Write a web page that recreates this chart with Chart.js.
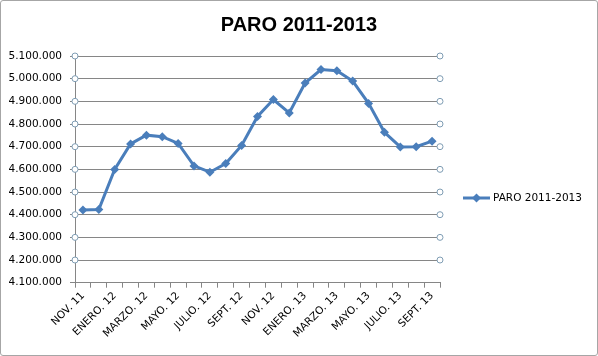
<!DOCTYPE html>
<html>
<head>
<meta charset="utf-8">
<script src="https://cdn.jsdelivr.net/npm/chart.js@4/dist/chart.umd.min.js"></script>
<style>
html,body{margin:0;padding:0;background:#fff;}
#wrap{position:absolute;left:0;top:0;width:596px;height:354px;border:1px solid #a6a6a6;border-radius:3px;overflow:hidden;}
#c{position:absolute;left:-1px;top:-1px;}
</style>
</head>
<body>
<div id="wrap"><canvas id="c" width="598" height="356"></canvas></div>
<script>
const categories = ["NOV. 11","DIC. 11","ENERO. 12","FEB. 12","MARZO. 12","ABRIL. 12","MAYO. 12","JUNIO. 12","JULIO. 12","AGOSTO. 12","SEPT. 12","OCT. 12","NOV. 12","DIC. 12","ENERO. 13","FEB. 13","MARZO. 13","ABRIL. 13","MAYO. 13","JUNIO. 13","JULIO. 13","AGOSTO. 13","SEPT. 13"];
const paro = [4420462,4422359,4599829,4712098,4750867,4744235,4714122,4615269,4587455,4625634,4705279,4833521,4907817,4848723,4980778,5040222,5035243,4989193,4890928,4763680,4698814,4699893,4724355];
const seriesName = "PARO 2011-2013";
const yMin = 4100000, yMax = 5100000, yStep = 100000;

const FONT = "'DejaVu Sans', sans-serif";
const LINE = '#4a7ebb';
const GRID = '#868686';

function fmt(v){ return Math.round(v).toString().replace(/\B(?=(\d{3})+(?!\d))/g, '.'); }

const extras = {
  id: 'extras',
  afterDatasetsDraw(chart){
    const ctx = chart.ctx, ca = chart.chartArea, y = chart.scales.y;
    ctx.save();
    ctx.strokeStyle = '#7f9db4';
    ctx.fillStyle = '#fff';
    ctx.lineWidth = 1;
    y.ticks.forEach(t => {
      if (t.value === yMin) return;
      const py = y.getPixelForValue(t.value);
      [ca.right, ca.left].forEach(px => {
        ctx.beginPath();
        ctx.arc(px, py, 3, 0, Math.PI*2);
        ctx.fill();
        ctx.stroke();
      });
    });
    // legend
    const lx = 463, ly = 198;
    ctx.strokeStyle = LINE; ctx.lineWidth = 3;
    ctx.beginPath(); ctx.moveTo(lx, ly); ctx.lineTo(lx+27, ly); ctx.stroke();
    ctx.fillStyle = LINE;
    ctx.beginPath();
    ctx.moveTo(lx+13.5, ly-4.5); ctx.lineTo(lx+18, ly); ctx.lineTo(lx+13.5, ly+4.5); ctx.lineTo(lx+9, ly); ctx.closePath();
    ctx.fill();
    ctx.fillStyle = '#000';
    ctx.font = "10.5px " + FONT;
    ctx.textBaseline = 'middle';
    ctx.textAlign = 'left';
    ctx.fillText(seriesName, lx+30, ly);
    ctx.restore();
  }
};

new Chart(document.getElementById('c'), {
  type: 'line',
  data: {
    labels: categories,
    datasets: [{
      label: seriesName,
      data: paro,
      borderColor: LINE,
      backgroundColor: LINE,
      borderWidth: 3,
      pointStyle: 'rectRot',
      pointRadius: 4.5,
      pointBorderWidth: 0,
      pointBackgroundColor: LINE,
      tension: 0
    }]
  },
  options: {
    responsive: false,
    animation: false,
    layout: { padding: { left: 0, right: 0, top: 0, bottom: 0 } },
    plugins: {
      legend: { display: false },
      tooltip: { enabled: false },
      title: {
        display: true,
        text: seriesName,
        color: '#000',
        font: { family: "'Liberation Sans', Arial, sans-serif", size: 20, weight: 'bold' },
        padding: { top: 13, bottom: 19 }
      }
    },
    scales: {
      x: {
        offset: true,
        afterFit(s){ s.height = 73.3; },
        grid: { display: true, drawOnChartArea: false, drawTicks: true, offset: true, tickLength: 5, color: GRID },
        border: { color: GRID },
        ticks: {
          autoSkip: false,
          minRotation: 45, maxRotation: 45,
          padding: 2,
          color: '#000',
          font: { family: FONT, size: 10.5 },
          callback(v, i){ return i % 2 === 0 ? categories[i] : ''; }
        }
      },
      y: {
        min: yMin, max: yMax,
        afterFit(s){ s.width = 75; },
        grid: { color: GRID, tickLength: 5, drawTicks: true },
        border: { color: GRID },
        ticks: {
          stepSize: yStep,
          padding: 8,
          color: '#000',
          font: { family: FONT, size: 10.5 },
          callback(v){ return fmt(v); }
        }
      },
      yr: {
        position: 'right',
        display: true,
        min: yMin, max: yMax,
        afterFit(s){ s.width = 158; },
        grid: { display: false, drawTicks: false },
        border: { display: false },
        ticks: { display: false }
      }
    }
  },
  plugins: [extras]
});
</script>
</body>
</html>
